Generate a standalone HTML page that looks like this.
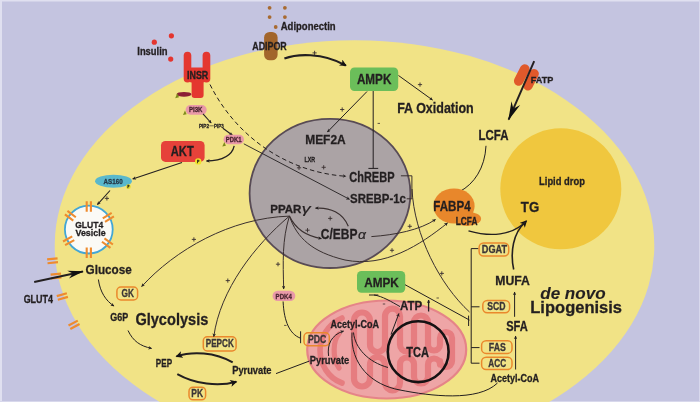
<!DOCTYPE html>
<html><head><meta charset="utf-8">
<style>
html,body{margin:0;padding:0;width:700px;height:402px;overflow:hidden;background:#c4c4e0}
svg{display:block;will-change:transform}
text{font-family:"Liberation Sans",sans-serif;font-weight:bold}
</style></head>
<body>
<svg width="700" height="402" viewBox="0 0 700 402">
<defs>
<marker id="ah" viewBox="0 0 10 10" refX="9" refY="5" markerWidth="4.5" markerHeight="3.6" orient="auto" markerUnits="userSpaceOnUse">
<path d="M0,0 L10,5 L0,10 L3,5 z" fill="#231f20"/>
</marker>
<marker id="ahb" viewBox="0 0 10 10" refX="8.5" refY="5" markerWidth="7.5" markerHeight="7" orient="auto" markerUnits="userSpaceOnUse">
<path d="M0,0 L10,5 L0,10 L2.5,5 z" fill="#151213"/>
</marker>
<marker id="ahf" viewBox="0 0 20 10" refX="19" refY="5" markerWidth="16" markerHeight="9.5" orient="auto" markerUnits="userSpaceOnUse">
<path d="M0,0 L20,5 L0,10 L6,5 z" fill="#111"/>
</marker>
<marker id="ahF" viewBox="0 0 20 10" refX="19" refY="5" markerWidth="19" markerHeight="11.5" orient="auto" markerUnits="userSpaceOnUse">
<path d="M0,0 L20,5 L0,10 L6.5,5 z" fill="#111"/>
</marker>
</defs>
<rect x="0" y="0" width="700" height="402" fill="#c4c4e0"/>
<rect x="0" y="0" width="700" height="1.5" fill="#e0e0f0"/>
<rect x="0" y="0" width="2" height="402" fill="#e0e0f0"/>
<rect x="699" y="0" width="1" height="402" fill="#d8d8ec"/>
<rect x="0" y="401" width="700" height="1" fill="#d8d8ec"/>

<ellipse cx="354.5" cy="245.7" rx="299.8" ry="205.5" fill="#f1e386"/>
<circle cx="560.8" cy="188.8" r="60.5" fill="#f0c73e"/>
<ellipse cx="330" cy="193.4" rx="80.4" ry="74.6" fill="#aba3a5" stroke="#584b55" stroke-width="1.8"/>
<ellipse cx="386.7" cy="349.5" rx="79.5" ry="49.0" fill="#eea5a6" stroke="#e58488" stroke-width="2.2"/>
<path d="M354,344.5 L354.0,320.5 A8.0,8.0 0 0 1 370.0,320.5 L370.0,344.5 A7.5,7.5 0 0 0 385.0,344.5 L385.0,316.2 A7.5,7.5 0 0 1 400.0,316.2 L400.0,344.5 A7.0,7.0 0 0 0 414.0,344.5 L414.0,322.5 A7.0,7.0 0 0 1 428.0,322.5 L428.0,344.5 A6.0,6.0 0 0 0 440.0,344.5 L440.0,338.0 A6.0,6.0 0 0 1 452.0,338.0 L452.0,361.0 A6.0,6.0 0 0 1 440.0,361.0 L440.0,364.5 A6.0,6.0 0 0 0 428.0,364.5 L428.0,376.5 A7.0,7.0 0 0 1 414.0,376.5 L414.0,364.5 A7.0,7.0 0 0 0 400.0,364.5 L400.0,382.8 A7.5,7.5 0 0 1 385.0,382.8 L385.0,364.5 A7.5,7.5 0 0 0 370.0,364.5 L370.0,378.5 A8.0,8.0 0 0 1 354.0,378.5 Z" fill="none" stroke="#e67d80" stroke-width="6.2" stroke-linejoin="round"/>
<path d="M342,318 C328,324 320,338 320,350 C320,364 328,378 342,383" fill="none" stroke="#e67d80" stroke-width="5.6" stroke-linecap="round"/>
<path d="M339,334 C333,340 332,358 339,368" fill="none" stroke="#e67d80" stroke-width="5.2" stroke-linecap="round"/>
<g transform="translate(52.5 260.8) rotate(-6.0)"><path d="M-5.2,-1.9 h10.5 M-5.2,1.9 h10.5" stroke="#ee8b2e" stroke-width="2.20"/></g>
<g transform="translate(56.0 276.0) rotate(-6.0)"><path d="M-5.2,-1.9 h10.5 M-5.2,1.9 h10.5" stroke="#ee8b2e" stroke-width="2.20"/></g>
<g transform="translate(62.3 296.5) rotate(-16.0)"><path d="M-5.2,-1.9 h10.5 M-5.2,1.9 h10.5" stroke="#ee8b2e" stroke-width="2.20"/></g>
<g transform="translate(74.0 324.8) rotate(-28.0)"><path d="M-5.2,-1.9 h10.5 M-5.2,1.9 h10.5" stroke="#ee8b2e" stroke-width="2.20"/></g>
<circle cx="88.8" cy="229.6" r="23.9" fill="#fbfaf6" stroke="#42a6d6" stroke-width="1.8"/>
<g transform="translate(88.8 206.6) rotate(-90.0)"><path d="M-5.2,-2.1 h10.5 M-5.2,2.1 h10.5" stroke="#ee8b2e" stroke-width="2.10"/></g>
<g transform="translate(88.8 252.6) rotate(90.0)"><path d="M-5.2,-2.1 h10.5 M-5.2,2.1 h10.5" stroke="#ee8b2e" stroke-width="2.10"/></g>
<g transform="translate(108.3 217.4) rotate(-32.0)"><path d="M-5.2,-2.1 h10.5 M-5.2,2.1 h10.5" stroke="#ee8b2e" stroke-width="2.10"/></g>
<g transform="translate(107.4 243.1) rotate(36.0)"><path d="M-5.2,-2.1 h10.5 M-5.2,2.1 h10.5" stroke="#ee8b2e" stroke-width="2.10"/></g>
<g transform="translate(70.4 215.8) rotate(-143.0)"><path d="M-5.2,-2.1 h10.5 M-5.2,2.1 h10.5" stroke="#ee8b2e" stroke-width="2.10"/></g>
<g transform="translate(68.7 240.8) rotate(151.0)"><path d="M-5.2,-2.1 h10.5 M-5.2,2.1 h10.5" stroke="#ee8b2e" stroke-width="2.10"/></g>
<text x="75.15" y="228.00" font-size="9.90" textLength="28.20" lengthAdjust="spacingAndGlyphs" fill="#231f20" stroke="#231f20" stroke-width="0.30">GLUT4</text>
<text x="75.44" y="236.40" font-size="9.30" textLength="30.16" lengthAdjust="spacingAndGlyphs" fill="#231f20" stroke="#231f20" stroke-width="0.30">Vesicle</text>
<circle cx="269.6" cy="7.8" r="1.9" fill="#a86a30"/>
<circle cx="284.9" cy="7.8" r="1.9" fill="#a86a30"/>
<circle cx="269.6" cy="17.1" r="1.9" fill="#a86a30"/>
<circle cx="284.9" cy="17.1" r="1.9" fill="#a86a30"/>
<circle cx="275.7" cy="27.0" r="1.9" fill="#a86a30"/>
<text x="280.76" y="29.60" font-size="10.20" textLength="54.82" lengthAdjust="spacingAndGlyphs" fill="#231f20" stroke="#231f20" stroke-width="0.30">Adiponectin</text>
<rect x="264.1" y="32" width="13.5" height="28.3" rx="5.5" fill="#a2652b"/>
<text x="252.28" y="50.00" font-size="10.40" textLength="34.40" lengthAdjust="spacingAndGlyphs" fill="#231f20" stroke="#231f20" stroke-width="0.30">ADIPOR</text>
<circle cx="154.3" cy="42.2" r="2.6" fill="#e4352f"/>
<circle cx="171.4" cy="35.8" r="2.6" fill="#e4352f"/>
<circle cx="170.7" cy="59.1" r="2.6" fill="#e4352f"/>
<text x="137.27" y="54.90" font-size="10.00" textLength="30.31" lengthAdjust="spacingAndGlyphs" fill="#231f20" stroke="#231f20" stroke-width="0.30">Insulin</text>
<g fill="#e4372f"><rect x="183.7" y="51.7" width="7.6" height="30.8" rx="3.8"/><rect x="202.6" y="51.7" width="7.7" height="30.8" rx="3.8"/><rect x="189" y="67.4" width="16" height="15" rx="2.5"/><rect x="191.6" y="79" width="12" height="19" rx="3"/></g>
<text x="187.00" y="78.90" font-size="10.00" textLength="21.28" lengthAdjust="spacingAndGlyphs" fill="#231f20" stroke="#231f20" stroke-width="0.30">INSR</text>
<ellipse cx="184" cy="94.3" rx="7.4" ry="2.4" fill="#8c1f36"/>
<path d="M175.2,98.2 L177.2,93.2 L179,97.2 z" fill="#7e8a1a"/>
<rect x="185.6" y="105" width="21.1" height="9.7" rx="4.85" fill="#e999a8"/>
<text x="188.89" y="112.40" font-size="7.40" textLength="13.56" lengthAdjust="spacingAndGlyphs" fill="#4a2530" stroke="#4a2530" stroke-width="0.30">PI3K</text>
<path d="M183,115 L185,110.6 L186.6,114.3 z" fill="#7e8a1a"/>
<text x="198.99" y="128.00" font-size="6.10" textLength="9.99" lengthAdjust="spacingAndGlyphs" fill="#231f20" stroke="#231f20" stroke-width="0.30">PIP2</text>
<text x="214.00" y="128.00" font-size="6.10" textLength="9.66" lengthAdjust="spacingAndGlyphs" fill="#231f20" stroke="#231f20" stroke-width="0.30">PIP3</text>
<path d="M209.3,125.8 L213.8,125.8" fill="none" stroke="#231f20" stroke-width="0.60"/>
<path d="M203,113.9 L211.2,123" fill="none" stroke="#231f20" stroke-width="1.10" marker-end="url(#ah)"/>
<path d="M222.9,128.3 L232.4,135.3" fill="none" stroke="#231f20" stroke-width="1.10" marker-end="url(#ah)"/>
<rect x="223.5" y="134.8" width="20.5" height="9.4" rx="4.7" fill="#e999a8"/>
<text x="225.80" y="142.10" font-size="6.80" textLength="15.76" lengthAdjust="spacingAndGlyphs" fill="#4a2530" stroke="#4a2530" stroke-width="0.30">PDK1</text>
<path d="M222.3,146.4 L224.3,142 L225.9,145.7 z" fill="#7e8a1a"/>
<rect x="161" y="140.9" width="43.6" height="21" rx="4.5" fill="#e6423a"/>
<text x="170.72" y="155.50" font-size="14.00" textLength="23.00" lengthAdjust="spacingAndGlyphs" fill="#231f20" stroke="#231f20" stroke-width="0.30">AKT</text>
<circle cx="198.2" cy="161.4" r="3.2" fill="#f0e22a"/>
<text x="196.96" y="162.90" font-size="3.60" textLength="2.36" lengthAdjust="spacingAndGlyphs" fill="#231f20" stroke="#231f20" stroke-width="0.30">P</text>
<path d="M234.2,145.8 C232,156 222,160.5 206.5,161" fill="none" stroke="#231f20" stroke-width="1.30" marker-end="url(#ah)"/>
<ellipse cx="113.5" cy="181.2" rx="18.4" ry="6.5" fill="#5ab8cc"/>
<text x="103.44" y="183.80" font-size="7.40" textLength="19.21" lengthAdjust="spacingAndGlyphs" fill="#25394a" stroke="#25394a" stroke-width="0.30">AS160</text>
<circle cx="128.4" cy="186.7" r="2.4" fill="#e8e030"/>
<text x="127.41" y="188.00" font-size="3.00" textLength="1.89" lengthAdjust="spacingAndGlyphs" fill="#231f20" stroke="#231f20" stroke-width="0.30">P</text>
<path d="M182,162.5 L132.7,179" fill="none" stroke="#231f20" stroke-width="1.10" marker-end="url(#ah)"/>
<path d="M110,190.5 L97.4,204.6" fill="none" stroke="#231f20" stroke-width="1.10" marker-end="url(#ah)"/>
<path d="M210,84.5 C235,135 285,172 346,176.3" fill="none" stroke="#231f20" stroke-width="1.00" marker-end="url(#ah)" stroke-dasharray="4.5 3"/>
<path d="M243.8,143.8 L349.5,199.3" fill="none" stroke="#231f20" stroke-width="0.90" marker-end="url(#ah)"/>
<text x="305.20" y="143.70" font-size="13.50" textLength="40.51" lengthAdjust="spacingAndGlyphs" fill="#231f20" stroke="#231f20" stroke-width="0.30">MEF2A</text>
<text x="304.44" y="162.40" font-size="7.40" textLength="10.67" lengthAdjust="spacingAndGlyphs" fill="#231f20" stroke="#231f20" stroke-width="0.30">LXR</text>
<text x="349.25" y="182.10" font-size="14.40" textLength="45.23" lengthAdjust="spacingAndGlyphs" fill="#231f20" stroke="#231f20" stroke-width="0.30">ChREBP</text>
<text x="350.07" y="203.00" font-size="13.70" textLength="55.86" lengthAdjust="spacingAndGlyphs" fill="#231f20" stroke="#231f20" stroke-width="0.30">SREBP-1c</text>
<text x="270.25" y="212.50" font-size="11.50" textLength="31.18" lengthAdjust="spacingAndGlyphs" fill="#231f20" stroke="#231f20" stroke-width="0.30">PPAR</text>
<text x="301.74" y="212.80" font-size="12.50" textLength="8.82" lengthAdjust="spacingAndGlyphs" fill="#231f20" font-style="italic" style="font-weight:normal" stroke="#231f20" stroke-width="0.20">γ</text>
<text x="320.81" y="238.60" font-size="14.40" textLength="36.60" lengthAdjust="spacingAndGlyphs" fill="#231f20" stroke="#231f20" stroke-width="0.30">C/EBP</text>
<text x="358.12" y="239.10" font-size="12.60" textLength="7.95" lengthAdjust="spacingAndGlyphs" fill="#231f20" font-style="italic" style="font-weight:normal" stroke="#231f20" stroke-width="0.20">α</text>
<rect x="350" y="67.4" width="48.2" height="23.6" rx="4.5" fill="#6bbe5a"/>
<text x="356.91" y="83.80" font-size="14.00" textLength="34.50" lengthAdjust="spacingAndGlyphs" fill="#231f20" stroke="#231f20" stroke-width="0.30">AMPK</text>
<text x="397.18" y="113.00" font-size="15.20" textLength="76.59" lengthAdjust="spacingAndGlyphs" fill="#231f20" stroke="#231f20" stroke-width="0.30">FA Oxidation</text>
<path d="M398.5,75.5 L432.5,100" fill="none" stroke="#231f20" stroke-width="1.00" marker-end="url(#ah)"/>
<path d="M367,91.5 L327.4,132" fill="none" stroke="#231f20" stroke-width="1.00" marker-end="url(#ah)"/>
<path d="M373.2,91 L373.2,168.4 M368.4,168.4 L378.2,168.4" fill="none" stroke="#231f20" stroke-width="1.00"/>
<path d="M284.4,58.6 C296,54 322,52 345.8,65.5" fill="none" stroke="#231f20" stroke-width="2.10" marker-end="url(#ahb)"/>
<g transform="translate(526.4 77.3) rotate(27)" fill="#e0592b"><rect x="-10" y="-11.5" width="9.6" height="23" rx="4.8"/><rect x="0.4" y="-11.5" width="9.6" height="23" rx="4.8"/></g>
<text x="530.82" y="83.10" font-size="9.90" textLength="22.57" lengthAdjust="spacingAndGlyphs" fill="#231f20" stroke="#231f20" stroke-width="0.30">FATP</text>
<path d="M534.2,61.2 L508.6,119.7" fill="none" stroke="#231f20" stroke-width="2.00" marker-end="url(#ahF)"/>
<text x="478.55" y="140.40" font-size="14.10" textLength="29.84" lengthAdjust="spacingAndGlyphs" fill="#231f20" stroke="#231f20" stroke-width="0.30">LCFA</text>
<path d="M486,145.8 C485,168 474,184 459.8,191.5" fill="none" stroke="#231f20" stroke-width="1.00"/>
<ellipse cx="454" cy="206" rx="20.6" ry="17.6" fill="#e8872b"/>
<ellipse cx="466.8" cy="218.8" rx="14.3" ry="7.1" fill="#e8872b"/>
<text x="433.34" y="210.60" font-size="14.40" textLength="37.32" lengthAdjust="spacingAndGlyphs" fill="#231f20" stroke="#231f20" stroke-width="0.30">FABP4</text>
<text x="455.76" y="224.60" font-size="10.20" textLength="21.66" lengthAdjust="spacingAndGlyphs" fill="#231f20" stroke="#231f20" stroke-width="0.30">LCFA</text>
<path d="M468.5,230.8 C490,237 512,236 526.4,221" fill="none" stroke="#231f20" stroke-width="1.30" marker-end="url(#ahb)"/>
<text x="539.07" y="184.60" font-size="10.90" textLength="45.81" lengthAdjust="spacingAndGlyphs" fill="#231f20" stroke="#231f20" stroke-width="0.30">Lipid drop</text>
<text x="520.85" y="212.40" font-size="15.50" textLength="18.37" lengthAdjust="spacingAndGlyphs" fill="#231f20" stroke="#231f20" stroke-width="0.30">TG</text>
<path d="M513.7,269.5 C510,252 513,233 525.5,222" fill="none" stroke="#231f20" stroke-width="1.60"/>
<path d="M478.5,248.6 L471.2,248.6 L471.2,363.2 L479.5,363.2 M471.2,347.6 L479.5,347.6 M471.2,306.8 L479.5,306.8" fill="none" stroke="#231f20" stroke-width="1.00"/>
<g fill="none" stroke="#ea882c" stroke-width="1.5"><rect x="479.1" y="243" width="29.6" height="13" rx="4.5"/><rect x="482.8" y="300.5" width="26.8" height="12.2" rx="4.5"/><rect x="481.6" y="340.8" width="30.4" height="12.6" rx="4.5"/><rect x="481.6" y="357.3" width="30.4" height="12.2" rx="4.5"/></g>
<text x="481.80" y="252.90" font-size="10.70" textLength="25.29" lengthAdjust="spacingAndGlyphs" fill="#3b3536" stroke="#3b3536" stroke-width="0.30">DGAT</text>
<text x="487.25" y="310.40" font-size="11.10" textLength="18.31" lengthAdjust="spacingAndGlyphs" fill="#3b3536" stroke="#3b3536" stroke-width="0.30">SCD</text>
<text x="488.83" y="350.70" font-size="10.00" textLength="17.00" lengthAdjust="spacingAndGlyphs" fill="#3b3536" stroke="#3b3536" stroke-width="0.30">FAS</text>
<text x="488.30" y="366.80" font-size="10.40" textLength="17.83" lengthAdjust="spacingAndGlyphs" fill="#3b3536" stroke="#3b3536" stroke-width="0.30">ACC</text>
<text x="495.30" y="285.40" font-size="12.90" textLength="34.62" lengthAdjust="spacingAndGlyphs" fill="#231f20" stroke="#231f20" stroke-width="0.30">MUFA</text>
<text x="506.19" y="330.75" font-size="14.20" textLength="21.60" lengthAdjust="spacingAndGlyphs" fill="#231f20" stroke="#231f20" stroke-width="0.30">SFA</text>
<text x="490.48" y="382.40" font-size="10.60" textLength="48.46" lengthAdjust="spacingAndGlyphs" fill="#231f20" stroke="#231f20" stroke-width="0.30">Acetyl-CoA</text>
<path d="M514.6,316.8 L514.6,292" fill="none" stroke="#231f20" stroke-width="1.00" marker-end="url(#ah)"/>
<path d="M515.6,369.5 L515.6,336" fill="none" stroke="#231f20" stroke-width="1.00" marker-end="url(#ah)"/>
<text x="540.22" y="298.60" font-size="16.00" textLength="65.33" lengthAdjust="spacingAndGlyphs" fill="#231f20" font-style="italic" stroke="#231f20" stroke-width="0.10">de novo</text>
<text x="530.29" y="312.90" font-size="17.40" textLength="91.78" lengthAdjust="spacingAndGlyphs" fill="#231f20" stroke="#231f20" stroke-width="0.30">Lipogenisis</text>
<rect x="357" y="271" width="48.2" height="21.7" rx="4.5" fill="#6bbe5a"/>
<text x="364.21" y="287.10" font-size="13.10" textLength="34.50" lengthAdjust="spacingAndGlyphs" fill="#231f20" stroke="#231f20" stroke-width="0.30">AMPK</text>
<path d="M405,284.7 L469.5,320.1 M468.6,315.6 L468.6,326" fill="none" stroke="#231f20" stroke-width="1.00"/>
<path d="M400,306.6 C392,302 382,296 374,295 M369,295 L378.3,295" fill="none" stroke="#231f20" stroke-width="1.00"/>
<text x="400.12" y="310.00" font-size="13.30" textLength="22.15" lengthAdjust="spacingAndGlyphs" fill="#231f20" stroke="#231f20" stroke-width="0.30">ATP</text>
<path d="M428.6,311.5 L428.6,300" fill="none" stroke="#231f20" stroke-width="1.30" marker-end="url(#ah)"/>
<circle cx="418.2" cy="351.7" r="30.4" fill="none" stroke="#151213" stroke-width="2.6"/>
<text x="406.18" y="356.60" font-size="14.10" textLength="22.72" lengthAdjust="spacingAndGlyphs" fill="#231f20" stroke="#231f20" stroke-width="0.30">TCA</text>
<path d="M391,334.5 L398.9,313.5" fill="none" stroke="#231f20" stroke-width="1.00" marker-end="url(#ah)"/>
<text x="330.48" y="328.00" font-size="10.20" textLength="48.46" lengthAdjust="spacingAndGlyphs" fill="#231f20" stroke="#231f20" stroke-width="0.30">Acetyl-CoA</text>
<text x="309.78" y="363.60" font-size="10.50" textLength="39.44" lengthAdjust="spacingAndGlyphs" fill="#231f20" stroke="#231f20" stroke-width="0.30">Pyruvate</text>
<rect x="304" y="332.8" width="25.3" height="12.9" rx="4" fill="none" stroke="#ea882c" stroke-width="1.5"/>
<text x="307.92" y="343.20" font-size="10.40" textLength="18.32" lengthAdjust="spacingAndGlyphs" fill="#3b3536" stroke="#3b3536" stroke-width="0.30">PDC</text>
<path d="M328.6,356 C327,345 331,335 343.6,331" fill="none" stroke="#231f20" stroke-width="1.00" marker-end="url(#ah)"/>
<path d="M353.5,332.5 C355,348 368,362 388,367.5" fill="none" stroke="#231f20" stroke-width="1.00"/>
<path d="M352,332.5 C350,365 372,385 400,390 C430,396 478,402 497.5,383" fill="none" stroke="#231f20" stroke-width="1.00"/>
<rect x="272.5" y="290.8" width="22.8" height="10.3" rx="5.15" fill="#e999a8"/>
<text x="275.59" y="298.70" font-size="8.00" textLength="16.24" lengthAdjust="spacingAndGlyphs" fill="#4a2530" stroke="#4a2530" stroke-width="0.30">PDK4</text>
<path d="M283.1,301.5 C284,322 290,334 300,338 M300.6,331.3 L300.6,343.2" fill="none" stroke="#231f20" stroke-width="1.00"/>
<text x="85.52" y="274.10" font-size="13.60" textLength="46.28" lengthAdjust="spacingAndGlyphs" fill="#231f20" stroke="#231f20" stroke-width="0.30">Glucose</text>
<text x="23.63" y="302.90" font-size="10.40" textLength="29.31" lengthAdjust="spacingAndGlyphs" fill="#231f20" stroke="#231f20" stroke-width="0.30">GLUT4</text>
<path d="M34.2,282 L83,271.4" fill="none" stroke="#231f20" stroke-width="2.00" marker-end="url(#ahf)"/>
<path d="M98.4,279.5 C100,292 106,301 114,306" fill="none" stroke="#231f20" stroke-width="1.00" marker-end="url(#ah)"/>
<rect x="116.9" y="287" width="20.7" height="13" rx="4" fill="none" stroke="#ea882c" stroke-width="1.5"/>
<text x="121.56" y="297.00" font-size="10.70" textLength="12.42" lengthAdjust="spacingAndGlyphs" fill="#3b3536" stroke="#3b3536" stroke-width="0.30">GK</text>
<text x="110.23" y="321.00" font-size="10.40" textLength="17.87" lengthAdjust="spacingAndGlyphs" fill="#231f20" stroke="#231f20" stroke-width="0.30">G6P</text>
<text x="135.40" y="325.00" font-size="16.40" textLength="72.90" lengthAdjust="spacingAndGlyphs" fill="#231f20" stroke="#231f20" stroke-width="0.30">Glycolysis</text>
<path d="M128,330.5 C133,341 140,346 151.6,348.4" fill="none" stroke="#231f20" stroke-width="1.00" marker-end="url(#ah)"/>
<rect x="203.3" y="336.8" width="32.8" height="14.2" rx="4" fill="none" stroke="#ea882c" stroke-width="1.5"/>
<text x="205.76" y="346.90" font-size="10.00" textLength="28.02" lengthAdjust="spacingAndGlyphs" fill="#3b3536" stroke="#3b3536" stroke-width="0.30">PEPCK</text>
<text x="155.86" y="367.40" font-size="10.40" textLength="16.22" lengthAdjust="spacingAndGlyphs" fill="#231f20" stroke="#231f20" stroke-width="0.30">PEP</text>
<text x="232.18" y="374.30" font-size="10.50" textLength="39.34" lengthAdjust="spacingAndGlyphs" fill="#231f20" stroke="#231f20" stroke-width="0.30">Pyruvate</text>
<path d="M232.7,362.4 C215,352 192,351 176.5,356.4" fill="none" stroke="#231f20" stroke-width="2.00" marker-end="url(#ahb)"/>
<path d="M177.3,374.1 C195,384 218,387 236.3,381.8" fill="none" stroke="#231f20" stroke-width="2.00" marker-end="url(#ahb)"/>
<rect x="189" y="387.2" width="16.6" height="12.6" rx="4" fill="none" stroke="#ea882c" stroke-width="1.5"/>
<text x="191.33" y="396.90" font-size="10.20" textLength="11.74" lengthAdjust="spacingAndGlyphs" fill="#3b3536" stroke="#3b3536" stroke-width="0.30">PK</text>
<path d="M276,373.6 L309.5,361" fill="none" stroke="#231f20" stroke-width="1.00"/>
<path d="M289.4,216.1 C230,218 175,250 141.6,286.6" fill="none" stroke="#3a3030" stroke-width="1.00" marker-end="url(#ah)"/>
<path d="M289.4,216.1 C255,245 220,290 213.8,336.6" fill="none" stroke="#3a3030" stroke-width="1.00" marker-end="url(#ah)"/>
<path d="M289.4,216.1 C282,240 283,262 283.7,289" fill="none" stroke="#3a3030" stroke-width="1.00" marker-end="url(#ah)"/>
<path d="M289.4,216.1 C295,228 305,236 321.4,238.6" fill="none" stroke="#3a3030" stroke-width="1.20" marker-end="url(#ah)"/>
<path d="M289.4,216.1 C297,238 312,252 345,260 C385,268 420,245 447.5,223" fill="none" stroke="#3a3030" stroke-width="1.00" marker-end="url(#ah)"/>
<path d="M348.3,226.3 C343,213 330,207 315.5,208.2" fill="none" stroke="#3a3030" stroke-width="1.20" marker-end="url(#ah)"/>
<path d="M371.4,236.6 C395,235 420,230 435.5,219.5" fill="none" stroke="#3a3030" stroke-width="1.00" marker-end="url(#ah)"/>
<path d="M400.9,175.8 L411.9,175.8 L411.9,198.8 L406.7,198.8" fill="none" stroke="#3a3030" stroke-width="1.00"/>
<path d="M412,189 C414,235 440,285 469.5,312" fill="none" stroke="#3a3030" stroke-width="1.00"/>
<path d="M312.5,52.9 h4.2 M314.6,50.8 v4.2" stroke="#3a3030" stroke-width="0.90"/>
<path d="M417.9,84.6 h4.2 M420.0,82.5 v4.2" stroke="#3a3030" stroke-width="0.90"/>
<path d="M340.1,109.5 h4.2 M342.2,107.4 v4.2" stroke="#3a3030" stroke-width="0.90"/>
<path d="M296.9,167.8 h4.2 M299.0,165.7 v4.2" stroke="#3a3030" stroke-width="0.90"/>
<path d="M321.6,167.3 h4.2 M323.7,165.2 v4.2" stroke="#3a3030" stroke-width="0.90"/>
<path d="M104.8,198.4 h4.2 M106.9,196.3 v4.2" stroke="#3a3030" stroke-width="0.90"/>
<path d="M191.8,239.4 h4.2 M193.9,237.3 v4.2" stroke="#3a3030" stroke-width="0.90"/>
<path d="M225.7,280.6 h4.2 M227.8,278.5 v4.2" stroke="#3a3030" stroke-width="0.90"/>
<path d="M275.9,264.2 h4.2 M278.0,262.1 v4.2" stroke="#3a3030" stroke-width="0.90"/>
<path d="M305.4,230.2 h4.2 M307.5,228.1 v4.2" stroke="#3a3030" stroke-width="0.90"/>
<path d="M328.1,218.4 h4.2 M330.2,216.3 v4.2" stroke="#3a3030" stroke-width="0.90"/>
<path d="M389.9,250.3 h4.2 M392.0,248.2 v4.2" stroke="#3a3030" stroke-width="0.90"/>
<path d="M407.7,226.3 h4.2 M409.8,224.2 v4.2" stroke="#3a3030" stroke-width="0.90"/>
<path d="M439.7,273.4 h4.2 M441.8,271.3 v4.2" stroke="#3a3030" stroke-width="0.90"/>
<path d="M377.6,123.4 h2.4" stroke="#3a3030" stroke-width="0.80"/>
<path d="M436.5,298.0 h2.4" stroke="#3a3030" stroke-width="0.80"/>
<path d="M382.8,304.0 h2.4" stroke="#3a3030" stroke-width="0.80"/>
<path d="M284.1,325.4 h2.4" stroke="#3a3030" stroke-width="0.80"/>
</svg>
</body></html>
